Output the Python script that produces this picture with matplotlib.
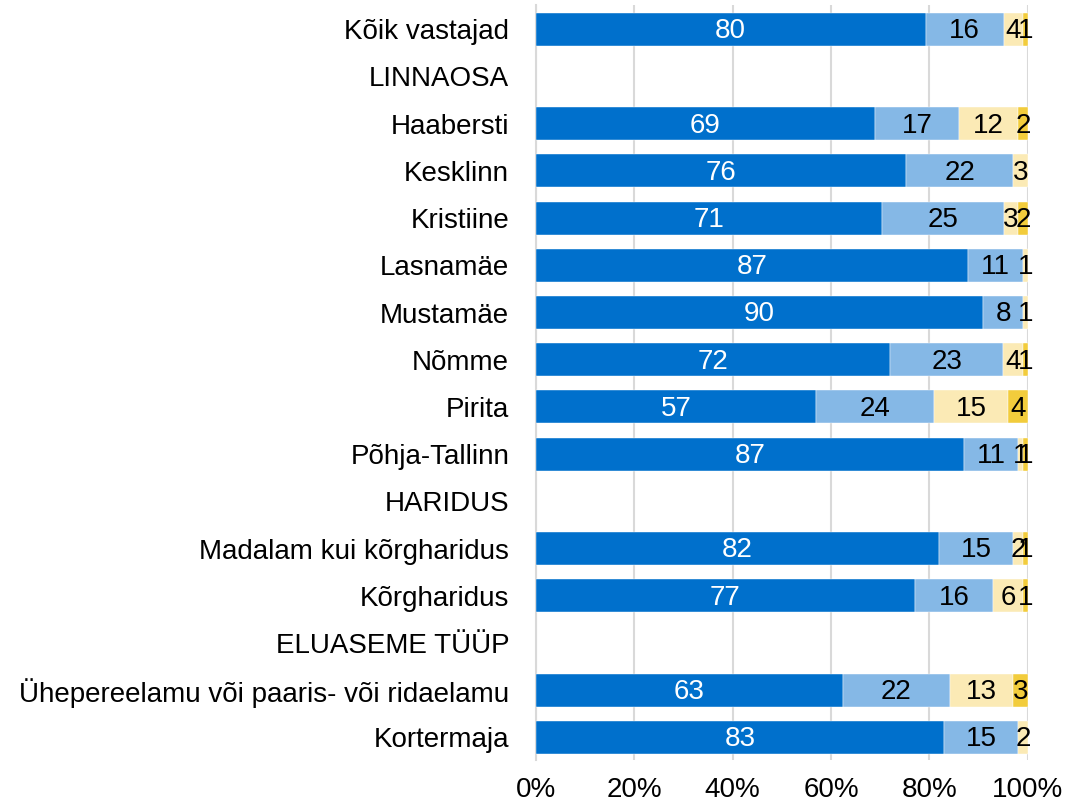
import matplotlib.pyplot as plt
import numpy as np

plt.rcParams['font.family'] = ['Liberation Sans', 'DejaVu Sans']

categories = ['Kõik vastajad', 'LINNAOSA', 'Haabersti', 'Kesklinn', 'Kristiine',
              'Lasnamäe', 'Mustamäe', 'Nõmme', 'Pirita', 'Põhja-Tallinn',
              'HARIDUS', 'Madalam kui kõrgharidus', 'Kõrgharidus',
              'ELUASEME TÜÜP', 'Ühepereelamu või paaris- või ridaelamu', 'Kortermaja']

# None = header row without a bar
s1 = [80, None, 69, 76, 71, 87, 90, 72, 57, 87, None, 82, 77, None, 63, 83]
s2 = [16, None, 17, 22, 25, 11, 8, 23, 24, 11, None, 15, 16, None, 22, 15]
s3 = [4, None, 12, 3, 3, 1, 1, 4, 15, 1, None, 2, 6, None, 13, 2]
s4 = [1, None, 2, 0, 2, 0, 0, 1, 4, 1, None, 1, 1, None, 3, 0]

colors = ['#0070CC', '#85B8E6', '#FBEAB5', '#F2CC3C']
text_colors = ['white', 'black', 'black', 'black']

fig = plt.figure(figsize=(10.68, 8.05), dpi=100)
ax = fig.add_axes([0.5015, 0.0559, 0.461, 0.9379])

y = np.arange(len(categories))
series = [s1, s2, s3, s4]
for i, cat in enumerate(categories):
    if s1[i] is None:
        continue
    vals = np.array([s[i] for s in series], dtype=float)
    pct = vals / vals.sum() * 100
    left = 0
    for j in range(4):
        if vals[j] > 0:
            ax.barh(y[i], pct[j], left=left, height=0.70, color=colors[j],
                    edgecolor='white', linewidth=0.3, zorder=3)
            ax.text(left + pct[j] / 2, y[i] + 0.04, '%d' % vals[j], ha='center', va='center',
                    color=text_colors[j], fontsize=20, zorder=4)
        left += pct[j]

ax.set_xlim(0, 100)
ax.set_ylim(15.477, -0.513)
ax.set_yticks(y)
ax.set_yticklabels(categories, fontsize=20)
ax.set_xticks([0, 20, 40, 60, 80, 100])
ax.set_xticklabels(['0%', '20%', '40%', '60%', '80%', '100%'], fontsize=20)
ax.tick_params(axis='both', length=0)
ax.tick_params(axis='y', pad=19)
ax.tick_params(axis='x', pad=12)
ax.grid(axis='x', color='#D9D9D9', linewidth=1.5, zorder=0)
for sp in ['top', 'right', 'bottom']:
    ax.spines[sp].set_visible(False)
ax.spines['left'].set_color('#D9D9D9')
ax.spines['left'].set_linewidth(1.5)

fig.savefig('out.png', dpi=100)
